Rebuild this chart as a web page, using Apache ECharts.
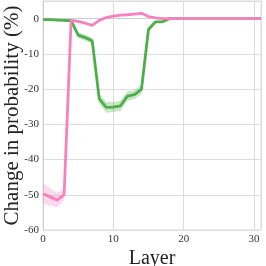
<!DOCTYPE html>
<html><head><meta charset="utf-8">
<script src="https://cdn.jsdelivr.net/npm/echarts@6/dist/echarts.min.js"></script>
<style>html,body{margin:0;padding:0;background:#fff}#c{width:266px;height:266px}</style>
</head><body><div id="c"></div>
<script>
var layers = [];
for (var i = 0; i <= 31; i++) layers.push(i);
var pinkMean = [-49.7,-50.6,-51.5,-50,-0.5,-0.8,-1.3,-1.9,-0.5,0.3,0.7,1.0,1.1,1.3,1.5,0.6,0.2,0,0,0,0,0,0,0,0,0,0,0,0,0,0,0];
var pinkErr  = [2.8,2.5,2.1,1.6,0.3,0.3,0.3,0.3,0.3,0.3,0.3,0.3,0.3,0.3,0.3,0.3,0.1,0,0,0,0,0,0,0,0,0,0,0,0,0,0,0];
var greenMean = [-0.3,-0.3,-0.4,-0.5,-0.6,-4.7,-5.4,-6.3,-22.8,-25.2,-25.1,-24.8,-22,-21.6,-20.1,-3.1,-0.9,-0.9,0,0,0,0,0,0,0,0,0,0,0,0,0,0];
var greenErr  = [0.2,0.2,0.2,0.2,0.3,0.9,0.9,0.9,1.5,1.5,1.4,1.4,1.3,1.3,1.3,0.6,0.3,0.3,0.1,0,0,0,0,0,0,0,0,0,0,0,0,0];
var xTicks = [0,10,20,30];
var yTicks = [-60,-50,-40,-30,-20,-10,0];
var PINK = '#f781bf', GREEN = '#4daf4a';
function pairs(arr){ return layers.map(function(x,i){return [x, arr[i]];}); }
function band(m, e, color){
  return {type:'custom', silent:true, z:1, data:[[0, 0]],
    renderItem:function(params, api){
      var pts = [], i;
      for (i = 0; i < layers.length; i++) pts.push(api.coord([layers[i], m[i] + e[i]]));
      for (i = layers.length - 1; i >= 0; i--) pts.push(api.coord([layers[i], m[i] - e[i]]));
      return {type:'polygon', shape:{points:pts}, style:{fill:color, opacity:0.3}};
    }};
}
var serif = '"Liberation Serif", "DejaVu Serif", serif';
var series = [
  band(greenMean, greenErr, GREEN),
  band(pinkMean, pinkErr, PINK),
  {type:'line', data:pairs(greenMean), symbol:'none', lineStyle:{color:GREEN, width:2.8}, z:3},
  {type:'line', data:pairs(pinkMean), symbol:'none', lineStyle:{color:PINK, width:2.8}, z:4}
];
var chart = echarts.init(document.getElementById('c'));
chart.setOption({
  animation:false,
  grid:{left:43, right:5, top:1, bottom:36, containLabel:false, outerBoundsMode:'none', show:true, borderColor:'#dcdcdc', borderWidth:1},
  xAxis:{type:'value', min:0, max:31, interval:10,
    name:'Layer', nameLocation:'middle', nameGap:19, nameMoveOverlap:false,
    nameTextStyle:{fontFamily:serif, fontSize:20, color:'#222'},
    axisLine:{lineStyle:{color:'#cfcfcf'}}, axisTick:{show:false},
    axisLabel:{fontFamily:serif, fontSize:11, color:'#333', margin:4,
      formatter:function(v){return xTicks.indexOf(v)>=0 ? String(v) : '';}},
    splitLine:{lineStyle:{color:'#dcdcdc'}}},
  yAxis:{type:'value', min:-60, max:5, interval:10,
    name:'Change in probability (%)', nameLocation:'middle', nameGap:20, nameMoveOverlap:false,
    nameTextStyle:{fontFamily:serif, fontSize:21, color:'#222'},
    axisLine:{show:true, lineStyle:{color:'#cfcfcf'}}, axisTick:{show:false},
    axisLabel:{fontFamily:serif, fontSize:11, color:'#333', margin:4,
      formatter:function(v){return yTicks.indexOf(v)>=0 ? String(v) : '';}},
    splitLine:{lineStyle:{color:'#dcdcdc'}}},
  series:series
});
</script></body></html>
